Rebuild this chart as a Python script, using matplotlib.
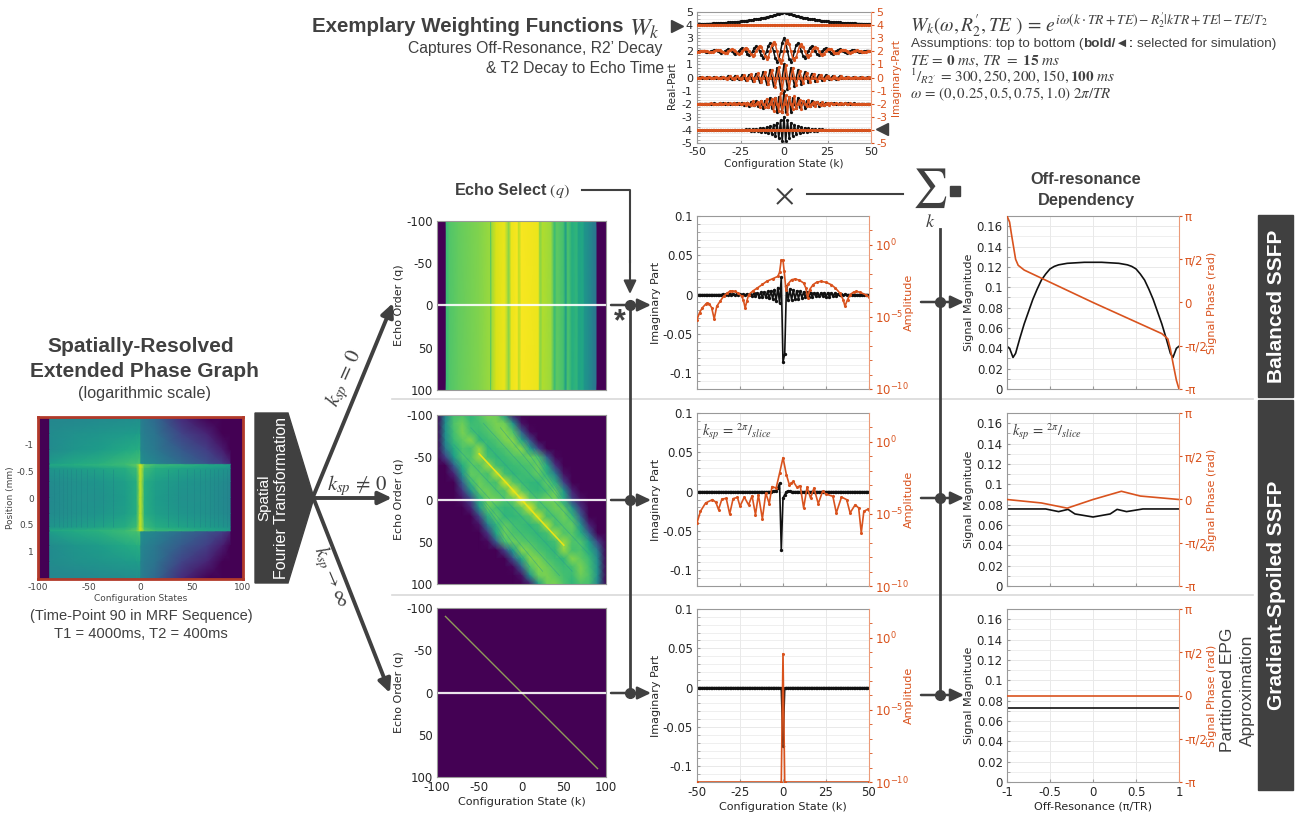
import numpy as np
import matplotlib
matplotlib.use("Agg")
import matplotlib.pyplot as plt
from matplotlib.patches import Polygon, Rectangle

plt.rcParams["mathtext.fontset"] = "stix"
plt.rcParams["font.family"] = "DejaVu Sans"
plt.rcParams["axes.unicode_minus"] = False

W, H = 1304, 813
BLACK = "#111111"
ORANGE = "#d9531e"
DARK = "#404040"
GRID = "#e9e9e9"
ARIAL = "Liberation Sans"

# ---- weighting functions, k = 0..50 (real part even, imaginary part odd in k)
k_half = np.arange(0, 51)
w1_real = [1, .95, .9, .86, .82, .78, .74, .7, .67, .64, .61, .58, .55, .52, .5, .47, .45, .43, .41, .39, .37, .35, .33, .32, .3, .29, .27, .26, .25, .23, .22, .21, .2, .19, .18, .17, .165, .16, .15, .14, .135, .13, .12, .115, .11, .105, .1, .095, .09, .085, .08]
w1_imag = [0] * 51
w2_real = [1.0, .67, 0, -.59, -.79, -.52, 0, .47, .62, .41, 0, -.36, -.49, -.32, 0, .29, .38, .25, 0, -.24, -.30, -.2, 0, .18, .24, .16, 0, -.14, -.19, -.13, 0, .11, .15, .1, 0, -.09, -.12, -.08, 0, .07, .09, .06, 0, -.05, -.07, -.05, 0, .04, .06, .04, 0]
w2_imag = [0, .67, .89, .59, 0, -.52, -.70, -.47, 0, .41, .55, .36, 0, -.32, -.43, -.29, 0, .25, .34, .24, 0, -.2, -.27, -.18, 0, .16, .21, .14, 0, -.13, -.165, -.11, 0, .1, .13, .09, 0, -.08, -.1, -.07, 0, .06, .08, .05, 0, -.05, -.06, -.04, 0, .03, .05]
w3_real = [1, 0, -.86, 0, .74, 0, -.64, 0, .55, 0, -.47, 0, .41, 0, -.35, 0, .3, 0, -.26, 0, .22, 0, -.19, 0, .17, 0, -.14, 0, .12, 0, -.105, 0, .09, 0, -.07, 0, .07, 0, -.06, 0, .05, 0, -.04, 0, .04, 0, -.03, 0, .03, 0, -.02]
w3_imag = [0, .93, 0, -.8, 0, .69, 0, -.59, 0, .51, 0, -.44, 0, .38, 0, -.32, 0, .28, 0, -.24, 0, .21, 0, -.18, 0, .15, 0, -.13, 0, .11, 0, -.1, 0, .08, 0, -.07, 0, .06, 0, -.05, 0, .04, 0, -.04, 0, .03, 0, -.03, 0, .02, 0]
w4_real = [1, -.64, 0, .52, -.67, .43, 0, -.35, .45, -.29, 0, .23, -.3, .19, 0, -.16, .2, -.13, 0, .11, -.14, .09, 0, -.07, .09, -.06, 0, .05, -.06, .04, 0, -.03, .04, -.03, 0, .02, -.03, .02, 0, -.01, .02, -.01, 0, .01, -.01, .01, 0, -.01, .01, 0, 0]
w4_imag = [0, .64, -.82, .52, 0, -.43, .55, -.35, 0, .29, -.37, .23, 0, -.19, .25, -.16, 0, .13, -.17, .11, 0, -.09, .11, -.07, 0, .06, -.07, .05, 0, -.04, .05, -.03, 0, .03, -.03, .02, 0, -.02, .02, -.01, 0, .01, -.02, .01, 0, -.01, .01, -.01, 0, 0, 0]
w5_real = [1, -.86, .74, -.64, .55, -.47, .41, -.35, .3, -.26, .22, -.19, .17, -.14, .12, -.105, .09, -.08, .07, -.06, .05, -.04, .04, -.03, .03, -.02, .02, -.02, .02, -.01, .01, -.01, .01, -.01, .01, 0, 0, 0, 0, 0, 0, 0, 0, 0, 0, 0, 0, 0, 0, 0, 0]
w5_imag = [0] * 51
w_rows = [(4, w1_real, w1_imag), (2, w2_real, w2_imag), (0, w3_real, w3_imag), (-2, w4_real, w4_imag), (-4, w5_real, w5_imag)]

# ---- echo profile, imaginary part
k_full = np.arange(-50, 51)
imag_bal = [0] * 15 + [.0005, -.0005, .0008, -.0008, .001, -.001, .001, -.001, .0008, -.0008, .0005, -.0005, .0003, -.0003,
            .0008, -.001, .0012, -.0015, .0018, -.002, .0022, -.0025, .0028, -.003, .0032, -.0035, .004, -.0045, .005, -.0055, .0065, -.008, .009, -.011,
            .022, -.086, -.075, .011,
            -.007, .007, -.007, .006, -.006, .005, -.005, .004, -.004, .0035, -.0035, .003, -.003, .0025, -.0025, .002, -.002, .002, -.002, .002, -.002,
            .0025, -.0025, .0025, -.0025, .002, -.002, .0015, -.0015, .001, -.001, .0008, -.0008, .0005, -.0005] + [0] * 13
imag_spoil = [0] * 44 + [.0003, .0005, .001, .005, .0105, -.074, -.008, -.004, 0, .001, .0005] + [0] * 46
imag_part = [0] * 49 + [-.0005, -.074, -.0005] + [0] * 49

# ---- echo profile, amplitude as log10
amp_k_bal = [-50, -48.5, -47, -45, -44, -43, -41.5, -40, -38.5, -36.5, -34.5, -32.5, -31, -29.5, -28, -26, -24, -23, -22, -21, -20, -17.5, -15, -12, -9.5, -6, -3, -2, -1, 0, .7, 1.7, 3, 5, 7, 9.5, 12, 13.3, 14.3, 15.5, 17.5, 19.5, 22, 25, 28, 30.5, 33, 35, 36, 37.5, 39, 41, 42.7, 45, 48, 50]
amp_log_bal = [-5.18, -4.7, -4.38, -4.12, -4.03, -4.08, -4.35, -5.14, -4.26, -3.9, -3.57, -3.35, -3.23, -3.2, -3.23, -3.35, -3.57, -3.85, -4.38, -3.9, -3.46, -3.2, -3.0, -2.75, -2.53, -2.35, -2.19, -1.9, -1.04, -1.08, -1.84, -3.11, -2.7, -2.42, -2.37, -2.45, -2.65, -3.0, -3.69, -3.1, -2.76, -2.6, -2.53, -2.6, -2.76, -3.0, -3.34, -3.8, -4.26, -3.8, -3.46, -3.28, -3.23, -3.3, -3.46, -3.62]
amp_k_spoil = [-50, -48, -45, -41, -39, -37.5, -35.5, -33, -31, -29, -26.5, -25, -22.5, -20, -18, -16, -14.3, -12, -10, -8, -6.4, -4, -2, 0, 2, 3.7, 4.7, 6, 8, 10, 12, 14, 16, 18, 20.5, 23, 25, 29, 31, 34, 37, 39, 42, 44, 45.5, 47, 49.5, 50]
amp_log_spoil = [-5.62, -4.82, -4.24, -4.01, -4.2, -4.7, -3.97, -3.92, -5, -3.94, -3.85, -4.47, -3.83, -4.38, -3.74, -5.05, -3.67, -5.34, -3.56, -4.29, -3.1, -3.21, -2.18, -1.1, -2.29, -2.98, -2.87, -2.75, -3.14, -3.05, -4.59, -3.14, -3.9, -3.21, -4.29, -3.44, -3.62, -3.78, -4.93, -3.83, -4.01, -4.93, -4.36, -4.59, -6.31, -4.82, -4.66, -4.7]
amp_k_part = [-50, -1, 0, 1, 50]
amp_log_part = [-10, -10, -1.1, -10, -10]

# ---- off-resonance dependency: magnitude and phase (in units of pi)
off_mag_bal = [-1, -.97, -.93, -.9, -.85, -.8, -.75, -.7, -.65, -.6, -.55, -.5, -.45, -.4, -.3, -.2, -.1, 0, .1, .2, .3, .4, .45, .5, .55, .6, .65, .7, .75, .8, .85, .9, .93, .97, 1]
mag_bal = [.042, .04, .031, .035, .05, .064, .076, .088, .098, .107, .113, .118, .1205, .122, .1235, .124, .1245, .1245, .1245, .124, .1235, .122, .1205, .118, .113, .107, .098, .088, .076, .064, .05, .035, .031, .04, .042]
off_ph_bal = [-1, -.97, -.95, -.92, -.9, -.87, -.8, 0, .8, .87, .9, .93, .97, 1]
ph_bal = [1, .93, .8, .62, .5, .43, .375, 0, -.36, -.42, -.54, -.7, -.9, -1]
off_mag_spoil = [-1, -.55, -.4, -.29, -.21, 0, .2, .28, .39, .58, 1]
mag_spoil = [.0757, .0757, .0731, .0753, .0708, .0678, .0708, .0753, .0731, .0757, .0757]
off_ph_spoil = [-1, -.6, -.3, 0, .33, .55, 1]
ph_spoil = [0, -.04, -.1, 0, .095, .04, 0]
off_part = [-1, 1]
mag_part = [.0727, .0727]
ph_part = [0, 0]

# ---- spatially resolved EPG, half of the position range (mirrored about 0)
epg_k = [-100, -89, -88.5, -65, -40, -15, -4, -.5, .5, 4, 15, 40, 65, 80, 88, 88.5, 100]
epg_pos = [-1.52, -1.2, -.9, -.64, -.62, -.55, -.3, 0]
epg_half = [
    [0, 0, .46, .46, .47, .48, .48, .48, .42, .40, .33, .12, 0, 0, 0, 0, 0],
    [0, 0, .48, .50, .52, .54, .55, .56, .44, .42, .38, .20, .10, 0, 0, 0, 0],
    [0, 0, .48, .52, .55, .60, .62, .63, .46, .44, .40, .28, .18, .08, 0, 0, 0],
    [0, 0, .55, .60, .63, .68, .70, .72, .50, .48, .45, .35, .25, .18, .10, 0, 0],
    [0, 0, .60, .62, .65, .68, .75, .92, .92, .75, .68, .65, .60, .58, .55, 0, 0],
    [0, 0, .52, .55, .58, .62, .68, .90, .90, .68, .62, .58, .55, .52, .50, 0, 0],
    [0, 0, .48, .50, .52, .56, .62, .88, .88, .62, .56, .52, .50, .48, .46, 0, 0],
    [0, 0, .47, .50, .50, .55, .62, .88, .88, .62, .55, .50, .50, .47, .45, 0, 0],
]
epg_stripes = [-84, -80, -76, -72, -68, -63, -58, -52, -45, -37, -27, 27, 37, 45, 52, 58, 63, 68, 72, 76, 80, 84]

# ---- balanced echo map: one profile over k, same for every q
bal_k = [-100, -89.5, -89, -85, -75, -60, -50, -40, -37, -36, -35, -30, -20, -15, -12, -5, -3, 0, 20, 22, 25, 35, 39, 42, 50, 52, 55, 60, 65, 68, 72, 75, 80, 85, 89, 89.5, 100]
bal_val = [0, 0, .68, .73, .76, .79, .81, .84, .84, .72, .86, .94, .97, .82, .97, .99, .9, .99, .97, .82, .88, .85, .68, .75, .7, .55, .72, .62, .66, .58, .6, .52, .48, .42, .38, 0, 0]

# ---- spoiled echo map, rows q = -100..0, columns k = -100..100 (point symmetric)
map_axis = np.arange(-100, 101, 10)
map_upper = [
    [0, .45, .70, .72, .65, .72, .80, .78, .55, .08, 0, 0, 0, 0, 0, 0, 0, 0, 0, 0, 0],
    [0, .50, .72, .78, .68, .70, .75, .80, .78, .50, .05, 0, 0, 0, 0, 0, 0, 0, 0, 0, 0],
    [0, .50, .70, .80, .70, .68, .72, .78, .82, .72, .30, .02, 0, 0, 0, 0, 0, 0, 0, 0, 0],
    [0, .48, .68, .75, .82, .66, .68, .72, .80, .82, .60, .25, 0, 0, 0, 0, 0, 0, 0, 0, 0],
    [0, .40, .62, .72, .70, .84, .66, .68, .72, .78, .82, .55, .20, 0, 0, 0, 0, 0, 0, 0, 0],
    [0, .20, .55, .72, .72, .85, .70, .66, .68, .72, .74, .78, .72, .30, .02, 0, 0, 0, 0, 0, 0],
    [0, 0, .30, .62, .74, .72, .85, .70, .66, .68, .70, .72, .78, .60, .15, 0, 0, 0, 0, 0, 0],
    [0, 0, .10, .50, .76, .74, .70, .88, .70, .66, .68, .70, .76, .66, .42, .05, 0, 0, 0, 0, 0],
    [0, 0, 0, .30, .68, .78, .72, .70, .92, .74, .68, .66, .66, .76, .64, .20, 0, 0, 0, 0, 0],
    [0, 0, 0, .15, .50, .76, .78, .72, .72, .96, .76, .68, .66, .70, .78, .52, .10, 0, 0, 0, 0],
    [0, 0, 0, .05, .20, .64, .78, .78, .72, .76, 1.0, .76, .72, .78, .78, .64, .20, .05, 0, 0, 0],
]
ridge_k = [-50, -20, 0, 20, 50]
ridge_q = [-54, -22, 0, 22, 54]
streak_k0 = [-60, -45, -25, -10, 5, 15, -80, -78, -70, -62, -55, -50]
streak_q0 = [-85, -90, -85, -80, -70, -60, -65, -45, -30, -20, -8, 2]
streak_k1 = [80, 78, 70, 62, 55, 50, 60, 45, 25, 10, -5, -15]
streak_q1 = [65, 45, 30, 20, 8, -2, 85, 90, 85, 80, 70, 60]
line_k = [-90, 90]
line_q = [-90, 90]

fig = plt.figure(figsize=(W / 100, H / 100), dpi=100)


def px_axes(x0, y0, x1, y1):
    # axes from pixel box, y measured from the top of the picture
    return fig.add_axes([x0 / W, 1 - y1 / H, (x1 - x0) / W, (y1 - y0) / H])


def style_line_axes(ax, tw, xt, fs=8.5):
    ax.set_xticks(xt)
    ax.grid(True, which="major", color=GRID, lw=.7)
    ax.grid(True, which="minor", axis="y", color=GRID, lw=.5)
    ax.set_axisbelow(True)
    ax.tick_params(axis="both", which="both", direction="in", length=2, color="#999999", labelsize=fs, pad=3, labelcolor="#262626")
    for s in ["left", "bottom", "top"]:
        ax.spines[s].set_color("#999999")
        tw.spines[s].set_visible(False)
    ax.spines["right"].set_visible(False)
    tw.spines["right"].set_color("#eb9a78")
    tw.tick_params(axis="y", which="both", colors=ORANGE, direction="out", length=2, labelsize=fs, pad=2)


# ---- weighting functions panel
ax = px_axes(697, 12, 871, 143)
tw = ax.twinx()
k_mirror = np.r_[-k_half[:0:-1], k_half]
for off, re, im in w_rows:
    re = np.array(re)
    im = np.array(im)
    ax.plot(k_mirror, off + np.r_[re[:0:-1], re], color=BLACK, lw=1.1, marker="o", ms=1.3)
    tw.plot(k_mirror, off + np.r_[-im[:0:-1], im], color=ORANGE, lw=1.1, marker="o", ms=1.3)
ax.set_xlim(-50, 50)
ax.set_ylim(-5, 5)
tw.set_ylim(-5, 5)
ax.set_yticks(np.arange(-5, 6))
ax.set_yticks(np.arange(-5, 5.01, .25), minor=True)
tw.set_yticks(np.arange(-5, 6), ["-5", "", "-3", "-2", "-1", "0", "1", "2", "3", "4", "5"])
style_line_axes(ax, tw, [-50, -25, 0, 25, 50], fs=8)
ax.set_xlabel("Configuration State (k)", fontsize=7.5, labelpad=1, color="#262626")
ax.set_ylabel("Real-Part", fontsize=7.5, color="#262626")
ax.yaxis.set_label_coords(-20 / 174, .44)
tw.set_ylabel("Imaginary-Part", fontsize=7.5, color=ORANGE)
tw.yaxis.set_label_coords(1 + 20 / 174, .5)

# ---- left EPG map
ax = px_axes(38, 417, 243, 579)
epg_z = np.array(epg_half)
epg_z = np.vstack([epg_z, epg_z[-2::-1]])
epg_y = np.r_[epg_pos, -np.array(epg_pos[-2::-1])]
ax.pcolormesh(epg_k, epg_y, epg_z, shading="gouraud", cmap="viridis", vmin=0, vmax=1)
ax.vlines(epg_stripes, -.55, .55, color="#1f7f86", lw=.6, alpha=.45)
ax.set_ylim(1.52, -1.52)
ax.set_xlim(-100, 100)
ax.set_xticks([-100, -50, 0, 50, 100])
ax.set_yticks([-1, -.5, 0, .5, 1], ["-1", "-0.5", "0", "0.5", "1"])
ax.tick_params(length=0, labelsize=6.5, pad=3, labelcolor="#444444")
ax.set_xlabel("Configuration States", fontsize=6.5, labelpad=1, color="#444444")
ax.set_ylabel("Position (mm)", fontsize=6.5, labelpad=1, color="#444444")
for s in ax.spines.values():
    s.set_color("#b23a2a")
    s.set_linewidth(2)

# ---- echo maps
rows_px = [(221, 390), (415, 584), (608, 777)]
for i, (y0, y1) in enumerate(rows_px):
    ax = px_axes(437, y0, 606, y1)
    if i == 0:
        ax.pcolormesh(bal_k, [-100, 100], np.array([bal_val, bal_val]), shading="gouraud", cmap="viridis", vmin=0, vmax=1)
    elif i == 1:
        map_z = np.array(map_upper)
        map_z = np.vstack([map_z, map_z[-2::-1, ::-1]])
        ax.pcolormesh(map_axis, map_axis, map_z, shading="gouraud", cmap="viridis", vmin=0, vmax=1)
        for a, b, c, d in zip(streak_k0, streak_q0, streak_k1, streak_q1):
            ax.plot([a, c], [b, d], color="#2a9d8f", lw=.5, alpha=.6)
        ax.plot(ridge_k, ridge_q, color="#e8e419", lw=1.2)
    else:
        ax.set_facecolor("#440154")
        ax.plot(line_k, line_q, color="#8f9a5a", lw=1)
    ax.axhline(0, color="white", lw=1.6, alpha=.9)
    ax.set_xlim(-100, 100)
    ax.set_ylim(100, -100)
    ax.set_yticks([-100, -50, 0, 50, 100])
    ax.set_xticks([-100, -50, 0, 50, 100] if i == 2 else [])
    ax.tick_params(length=0, labelsize=8.5, pad=3, labelcolor="#262626")
    ax.set_ylabel("Echo Order (q)", fontsize=8, color="#262626")
    ax.yaxis.set_label_coords(-33 / 169, .5)
    if i == 2:
        ax.set_xlabel("Configuration State (k)", fontsize=8, labelpad=2, color="#262626")
    for s in ax.spines.values():
        s.set_color("#999999")

# ---- echo profiles
prof_px = [(216, 389), (413, 586), (609, 782)]
prof_imag = [imag_bal, imag_spoil, imag_part]
prof_k = [amp_k_bal, amp_k_spoil, amp_k_part]
prof_log = [amp_log_bal, amp_log_spoil, amp_log_part]
for i, (y0, y1) in enumerate(prof_px):
    ax = px_axes(697, y0, 869, y1)
    tw = ax.twinx()
    ax.plot(k_full, prof_imag[i], color=BLACK, lw=1.2, marker="o", ms=1.4)
    tw.plot(prof_k[i], 10.0 ** np.array(prof_log[i]), color=ORANGE, lw=1.2, marker="o", ms=1.2)
    ax.set_xlim(-50, 50)
    ax.set_ylim(-.12, .1)
    ax.set_yticks([-.1, -.05, 0, .05, .1], ["-0.1", "-0.05", "0", "0.05", "0.1"])
    ax.set_yticks(np.arange(-.12, .1, .01), minor=True)
    tw.set_yscale("log")
    tw.set_ylim(1e-10, 1e2)
    tw.set_yticks([1e-10, 1e-5, 1e0])
    tw.set_yticks(10.0 ** np.arange(-10, 2), minor=True)
    tw.set_yticklabels([], minor=True)
    style_line_axes(ax, tw, [-50, -25, 0, 25, 50])
    if i < 2:
        ax.set_xticklabels([])
    else:
        ax.set_xlabel("Configuration State (k)", fontsize=8, labelpad=2, color="#262626")
    ax.set_ylabel("Imaginary Part", fontsize=8, color="#262626")
    ax.yaxis.set_label_coords(-36 / 172, .5)
    tw.set_ylabel("Amplitude", fontsize=8, color=ORANGE)
    tw.yaxis.set_label_coords(1 + 35 / 172, .5)
    if i == 1:
        ax.text(.03, .87, r"$k_{sp}\,=\,{}^{2\pi}/_{slice}$", transform=ax.transAxes, fontsize=10.5, color=DARK)

# ---- off-resonance panels
off_mag_x = [off_mag_bal, off_mag_spoil, off_part]
off_mag_y = [mag_bal, mag_spoil, mag_part]
off_ph_x = [off_ph_bal, off_ph_spoil, off_part]
off_ph_y = [ph_bal, ph_spoil, ph_part]
for i, (y0, y1) in enumerate(prof_px):
    ax = px_axes(1007, y0, 1179, y1)
    tw = ax.twinx()
    ax.plot(off_mag_x[i], off_mag_y[i], color=BLACK, lw=1.2)
    tw.plot(off_ph_x[i], np.array(off_ph_y[i]) * np.pi, color=ORANGE, lw=1.2)
    ax.set_xlim(-1, 1)
    ax.set_ylim(0, .17)
    ax.set_yticks([0, .02, .04, .06, .08, .1, .12, .14, .16], ["0", "0.02", "0.04", "0.06", "0.08", "0.1", "0.12", "0.14", "0.16"])
    ax.set_yticks(np.arange(0, .17, .01), minor=True)
    tw.set_ylim(-np.pi, np.pi)
    tw.set_yticks([-np.pi, -np.pi / 2, 0, np.pi / 2, np.pi], ["-π", "-π/2", "0", "π/2", "π"])
    style_line_axes(ax, tw, [-1, -.5, 0, .5, 1])
    if i < 2:
        ax.set_xticklabels([])
    else:
        ax.set_xticklabels(["-1", "-0.5", "0", "0.5", "1"])
        ax.set_xlabel("Off-Resonance (π/TR)", fontsize=8, labelpad=2, color="#262626")
    ax.set_ylabel("Signal Magnitude", fontsize=8, color="#262626")
    ax.yaxis.set_label_coords(-33 / 172, .5)
    tw.set_ylabel("Signal Phase (rad)", fontsize=8, color=ORANGE)
    tw.yaxis.set_label_coords(1 + 28 / 172, .5)
    if i == 1:
        ax.text(.03, .87, r"$k_{sp}\,=\,{}^{2\pi}/_{slice}$", transform=ax.transAxes, fontsize=10.5, color=DARK)

# ---- overlay in pixel coordinates: flow arrows and all free text
ov = fig.add_axes([0, 0, 1, 1], zorder=10)
ov.set_xlim(0, W)
ov.set_ylim(H, 0)
ov.axis("off")


def arrow(x0, y0, x1, y1, lw=1.8):
    ov.annotate("", xy=(x1, y1), xytext=(x0, y0),
                arrowprops=dict(arrowstyle="-|>,head_width=.38,head_length=.8", color=DARK, lw=lw, shrinkA=0, shrinkB=0))


def label(x, y, s, size, ha="center", weight="normal", color=DARK, rot=0, family=ARIAL):
    return ov.text(x, y, s, fontsize=size, ha=ha, va="center", weight=weight, color=color,
                   rotation=rot, family=family, rotation_mode="anchor")


# row separators
for y in [399, 595]:
    ov.plot([392, 1253], [y, y], color="#d9d9d9", lw=1.2)

# fourier block and branches
ov.add_patch(Polygon([(255, 413), (288, 413), (314, 498), (288, 583), (255, 583)], color=DARK))
label(264, 498, "Spatial", 11, rot=90, color="white")
label(282, 498, "Fourier Transformation", 11.5, rot=90, color="white")
arrow(313, 497, 393, 303, lw=2.8)
arrow(313, 498, 392, 498, lw=2.8)
arrow(313, 497, 390, 693, lw=2.8)
label(345, 378, r"$k_{sp}\,=\,0$", 15, rot=66)
label(357, 486, r"$k_{sp}\,\neq\,0$", 15)
label(331, 577, r"$k_{sp}\rightarrow\infty$", 14, rot=-67)

# left titles
label(141, 346, "Spatially-Resolved", 15, weight="bold")
label(144, 371, "Extended Phase Graph", 15, weight="bold")
label(144, 393, "(logarithmic scale)", 11.7)
label(141, 616, "(Time-Point 90 in MRF Sequence)", 10.5)
label(141, 634, "T1 = 4000ms, T2 = 400ms", 10.6)

# top titles
label(624, 27, "Exemplary Weighting Functions", 14.8, ha="right", weight="bold")
label(629, 29, r"$W_k$", 18, ha="left", family="DejaVu Sans")
label(662, 48, "Captures Off-Resonance, R2’ Decay", 11.3, ha="right")
label(664, 68, "& T2 Decay to Echo Time", 11.3, ha="right")
ov.plot([677], [26], marker=">", ms=8, color=DARK)
ov.plot([882], [129], marker="<", ms=8, color=DARK)

# formula block
label(910, 25, r"$W_k(\omega,R_2^{\prime},TE\ )\,=\,e^{i\omega(k\cdot TR+TE)-R_2^{\prime}|kTR+TE|-TE/T_2}$", 14, ha="left")
t0 = label(911, 44, "Assumptions: top to bottom (", 9.7, ha="left")
fig.canvas.draw()
x_next = ov.transData.inverted().transform(t0.get_window_extent().get_points())[1, 0]
t1 = label(x_next, 44, "bold/◄:", 9.7, ha="left", weight="bold", family=["Liberation Sans", "DejaVu Sans"])
x_next = ov.transData.inverted().transform(t1.get_window_extent().get_points())[1, 0]
label(x_next + 3, 44, "selected for simulation)", 9.7, ha="left")
label(910, 61, r"$TE\,=\,\mathbf{0}\ ms,\,TR\ =\ \mathbf{15}\ ms$", 11, ha="left")
label(910, 76, r"${}^{1}/_{R2^{\prime}}\,=\,300,250,200,150,\mathbf{100}\ ms$", 11, ha="left")
label(910, 94, r"$\omega\,=\,(0,0.25,0.5,0.75,1.0)\ 2\pi/TR$", 10.8, ha="left")

# echo select path
label(512, 190, r"Echo Select $(q)$", 11.6, weight="bold")
ov.plot([582, 630, 630], [190, 190, 262], color=DARK, lw=1.5)
arrow(630, 260, 630, 294, lw=1.5)
ov.plot([630, 630], [305, 693], color=DARK, lw=2)
label(620, 322, "*", 22, weight="bold")
for y in [305, 500, 693]:
    arrow(611, y, 651, y)
    ov.plot([630], [y], marker="o", ms=7, color=DARK)

# sum path
label(784, 196, r"$\times$", 22)
ov.plot([807, 903], [194, 194], color=DARK, lw=1.5)
label(930, 188, r"$\sum$", 28)
label(930, 222, r"$k$", 13)
ov.plot([955], [191], marker="s", ms=7, color=DARK)
ov.plot([940, 940], [229, 696], color=DARK, lw=2)
for y in [302, 498, 695]:
    arrow(921, y, 964, y)
    ov.plot([940], [y], marker="o", ms=7, color=DARK)
label(1086, 180, "Off-resonance", 11.8, weight="bold")
label(1086, 200, "Dependency", 11.8, weight="bold")

# right hand boxes
ov.add_patch(Rectangle((1258, 215), 35, 182, color=DARK))
ov.add_patch(Rectangle((1258, 400), 35, 390, color=DARK))
label(1276, 306, "Balanced SSFP", 15, weight="bold", color="white", rot=90)
label(1276, 595, "Gradient-Spoiled SSFP", 15, weight="bold", color="white", rot=90)
label(1228, 690, "Partitioned EPG", 12.5, rot=90)
label(1247, 690, "Approximation", 12.5, rot=90)

fig.savefig("out.png", dpi=100)
